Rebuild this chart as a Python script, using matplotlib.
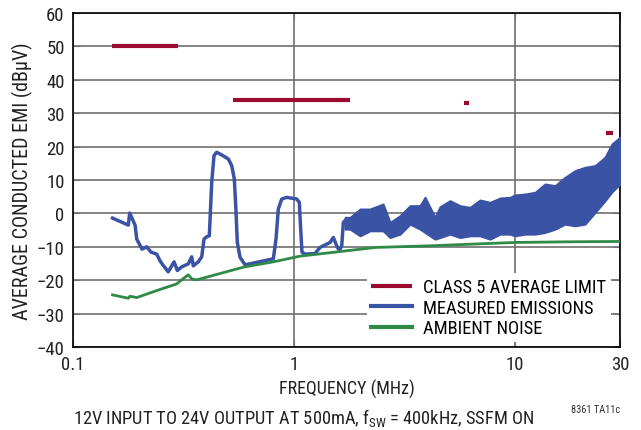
import numpy as np
import matplotlib
matplotlib.use("Agg")
import matplotlib.pyplot as plt

plt.rcParams['font.family'] = ['Roboto Condensed', 'DejaVu Sans']
plt.rcParams['mathtext.fontset'] = 'custom'
plt.rcParams['mathtext.rm'] = 'Roboto Condensed'
plt.rcParams['mathtext.it'] = 'Roboto Condensed'

# class 5 average limit segments (MHz, dBuV)
lim_start = [0.15, 0.53, 5.9, 26.0]
lim_end = [0.30, 1.8, 6.2, 28.0]
lim_db = [50, 34, 33, 24]

# measured emissions, low frequency part
meas_f = [0.151, 0.178, 0.1806, 0.191, 0.1944, 0.2053, 0.2157, 0.2256, 0.2394, 0.2478,
          0.2564, 0.270, 0.2868, 0.2968, 0.3107, 0.3329, 0.3448, 0.3506, 0.3694, 0.3828,
          0.392, 0.4032, 0.4143, 0.4248, 0.4351, 0.4475, 0.4714, 0.5051, 0.5233, 0.5377,
          0.5457, 0.5548, 0.5705, 0.6012, 0.8075, 0.8305, 0.8506, 0.8814, 0.9288, 1.031,
          1.059, 1.074, 1.089, 1.124, 1.247, 1.314, 1.409, 1.459, 1.510, 1.564,
          1.607, 1.648, 1.676, 1.736]
meas_db = [-1.4, -3.5, 0.1, -3.5, -7.7, -10.7, -10.0, -11.6, -12.2, -14.2,
           -15.6, -17.5, -14.5, -17.1, -16.0, -15.1, -13.0, -15.7, -14.5, -13.0,
           -7.7, -7.0, -6.7, 9.3, 17.3, 18.3, 17.5, 16.3, 14.3, 10.3,
           2.3, -8.7, -13.1, -15.4, -13.6, -7.7, 1.3, 4.3, 4.8, 4.3,
           3.3, -4.7, -11.6, -12.2, -12.0, -10.2, -9.2, -8.7, -7.2, -9.7,
           -11.2, -9.7, -2.7, -1.7]

# measured emissions above ~1.7MHz: dense spread, kept as min/max envelope
band_f = [1.706, 1.797, 1.995, 2.214, 2.535, 2.728, 3.027, 3.36, 3.728, 3.928,
          4.36, 4.593, 5.097, 5.657, 6.281, 6.97, 7.737, 8.589, 9.533, 10.0,
          11.15, 12.37, 13.73, 15.24, 16.92, 18.78, 20.84, 23.13, 25.67, 27.61, 30.0]
band_hi = [-1.2, -1.2, 1.3, 1.3, 2.8, -2.7, -0.7, 2.3, 2.3, 4.8,
           -1.2, 2.0, 3.8, 2.3, 1.8, 4.0, 3.3, 4.6, 4.8, 5.5,
           5.8, 6.3, 8.8, 8.3, 10.8, 12.8, 13.8, 14.3, 16.8, 20.8, 22.8]
band_lo = [-4.7, -4.7, -6.7, -5.2, -5.2, -7.2, -6.2, -3.2, -4.7, -5.7,
           -7.7, -7.2, -6.2, -7.2, -6.7, -6.7, -7.7, -6.2, -6.2, -6.7,
           -6.2, -6.2, -5.7, -4.7, -3.2, -3.7, -3.2, 0.3, 3.8, 6.5, 8.8]

# ambient noise
amb_f = [0.151, 0.178, 0.1811, 0.1944, 0.2394, 0.295, 0.3216, 0.333, 0.3448, 0.3633,
         0.5907, 0.8075, 1.067, 1.537, 2.332, 4.14, 10.0, 17.8, 30.0]
amb_db = [-24.4, -25.4, -24.8, -25.2, -23.1, -21.1, -19.1, -18.4, -19.6, -19.9,
          -16.1, -14.5, -12.8, -11.6, -10.2, -9.7, -8.7, -8.5, -8.4]

red = '#9b0a2f'
blue = '#3a53a4'
green = '#2f8a48'
grid_c = '#707070'
txt_c = '#222222'

fig = plt.figure(figsize=(6.41, 4.31), dpi=100)
ax = fig.add_axes([73 / 641, 1 - 348 / 431, 547 / 641, 334 / 431])

ax.hlines(lim_db, lim_start, lim_end, color=red, linewidth=3.0, label='CLASS 5 AVERAGE LIMIT', zorder=4)
ax.plot(meas_f, meas_db, color=blue, linewidth=2.5, label='MEASURED EMISSIONS', zorder=3)
ax.fill_between(band_f, band_lo, band_hi, color=blue, linewidth=1.5, edgecolor=blue, zorder=3)
ax.plot(amb_f, amb_db, color=green, linewidth=2.0, label='AMBIENT NOISE', zorder=3)

ax.set_xscale('log')
ax.set_xlim(0.1, 30)
ax.set_ylim(-40, 60)
ax.set_xticks([0.1, 1, 10, 30])
ax.set_xticklabels(['0.1', '1', '10', '30'])
ax.xaxis.set_minor_locator(matplotlib.ticker.NullLocator())
ax.set_yticks(np.arange(-40, 61, 10))
ax.grid(True, color=grid_c, linewidth=1.2)
ax.set_axisbelow(True)
ax.tick_params(direction='in', length=5, color=grid_c, top=True, right=True,
               labelsize=13.5, pad=6, labelcolor=txt_c)
for sp in ax.spines.values():
    sp.set_color('black')
    sp.set_linewidth(1.2)

ax.set_xlabel('FREQUENCY (MHz)', fontsize=13, color=txt_c, labelpad=4)
ax.set_ylabel('AVERAGE CONDUCTED EMI (dB\u03bcV)', fontsize=14.5, color=txt_c, labelpad=3)

# white box hides the gridlines, spines stay on top
leg = ax.legend(loc='lower right', bbox_to_anchor=(1.0, -0.012), fontsize=13.3,
                frameon=True, fancybox=False, framealpha=1, edgecolor='none',
                handlelength=2.2, handletextpad=0.6, labelspacing=0.14, borderpad=0.25)
leg.get_frame().set_facecolor('white')
leg.set_zorder(2.4)
for ln in leg.get_lines():
    ln.set_linewidth(3.0)

fig.text(73 / 641, 1 - 418 / 431, '12V INPUT TO 24V OUTPUT AT 500mA, f$_{\\mathrm{SW}}$ = 400kHz, SSFM ON',
         fontsize=13.2, color=txt_c, va='center', ha='left')
fig.text(620 / 641, 1 - 410 / 431, '8361 TA11c', fontsize=7.5, color='#333333', va='center', ha='right')

fig.savefig('out.png', dpi=100)
